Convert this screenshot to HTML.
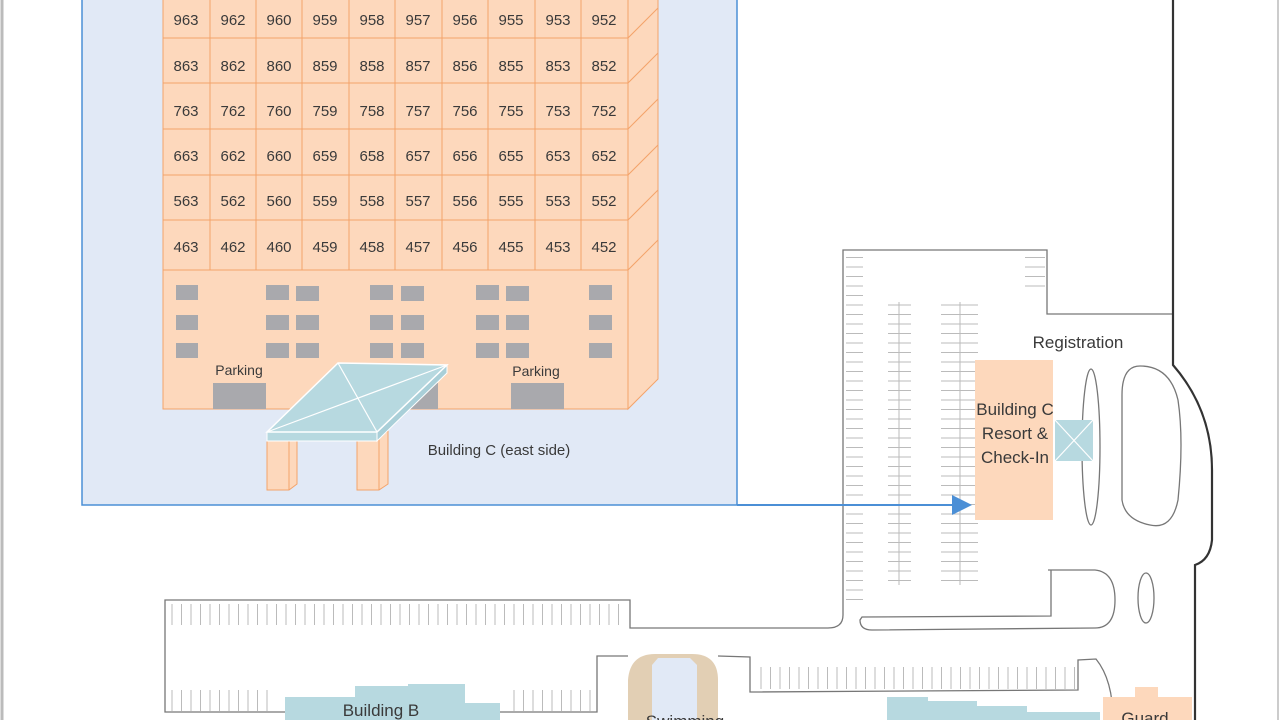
<!DOCTYPE html>
<html><head><meta charset="utf-8"><style>
html,body{margin:0;padding:0;background:#fff;width:1280px;height:720px;overflow:hidden}
text{font-family:"Liberation Sans",sans-serif;fill:#3a3a3a}
</style></head><body>
<svg width="1280" height="720" viewBox="0 0 1280 720" xmlns="http://www.w3.org/2000/svg">
<defs>
<pattern id="hz" width="20" height="9.5" patternUnits="userSpaceOnUse"><line x1="0" y1="1" x2="20" y2="1" stroke="#bbb" stroke-width="1"/></pattern>
<pattern id="vt" width="9.5" height="30" patternUnits="userSpaceOnUse"><line x1="1" y1="0" x2="1" y2="30" stroke="#bbb" stroke-width="1"/></pattern>
</defs>
<rect x="0" y="0" width="1280" height="720" fill="#fff"/>
<line x1="2" y1="0" x2="2" y2="720" stroke="#bbb" stroke-width="3"/>
<line x1="1278" y1="0" x2="1278" y2="720" stroke="#ccc" stroke-width="2"/>

<!-- blue panel -->
<rect x="82" y="-2" width="655" height="507" fill="#e1e9f6" stroke="#4b8fd6" stroke-width="1.5"/>

<!-- building -->
<polygon points="628,-7 658,-37 658,379 628,409" fill="#fdd8bc" stroke="#f4a36a" stroke-width="1"/>
<rect x="163" y="-7" width="465" height="416" fill="#fdd8bc" stroke="#f4a36a" stroke-width="1"/>
<g stroke="#f4a36a" stroke-width="1">
<line x1="210" y1="-7" x2="210" y2="270"/><line x1="256" y1="-7" x2="256" y2="270"/><line x1="302" y1="-7" x2="302" y2="270"/><line x1="349" y1="-7" x2="349" y2="270"/><line x1="395" y1="-7" x2="395" y2="270"/><line x1="442" y1="-7" x2="442" y2="270"/><line x1="488" y1="-7" x2="488" y2="270"/><line x1="535" y1="-7" x2="535" y2="270"/><line x1="581" y1="-7" x2="581" y2="270"/>
<line x1="163" y1="38" x2="628" y2="38"/><line x1="163" y1="83" x2="628" y2="83"/><line x1="163" y1="129" x2="628" y2="129"/><line x1="163" y1="175" x2="628" y2="175"/><line x1="163" y1="220" x2="628" y2="220"/><line x1="163" y1="270" x2="628" y2="270"/>
<line x1="628" y1="38" x2="658" y2="8"/><line x1="628" y1="83" x2="658" y2="53"/><line x1="628" y1="129" x2="658" y2="99"/><line x1="628" y1="175" x2="658" y2="145"/><line x1="628" y1="220" x2="658" y2="190"/><line x1="628" y1="270" x2="658" y2="240"/>
</g>
<g font-size="15" text-anchor="middle">
<text x="186" y="25">963</text><text x="233" y="25">962</text><text x="279" y="25">960</text><text x="325" y="25">959</text><text x="372" y="25">958</text><text x="418" y="25">957</text><text x="465" y="25">956</text><text x="511" y="25">955</text><text x="558" y="25">953</text><text x="604" y="25">952</text>
<text x="186" y="71">863</text><text x="233" y="71">862</text><text x="279" y="71">860</text><text x="325" y="71">859</text><text x="372" y="71">858</text><text x="418" y="71">857</text><text x="465" y="71">856</text><text x="511" y="71">855</text><text x="558" y="71">853</text><text x="604" y="71">852</text>
<text x="186" y="116">763</text><text x="233" y="116">762</text><text x="279" y="116">760</text><text x="325" y="116">759</text><text x="372" y="116">758</text><text x="418" y="116">757</text><text x="465" y="116">756</text><text x="511" y="116">755</text><text x="558" y="116">753</text><text x="604" y="116">752</text>
<text x="186" y="161">663</text><text x="233" y="161">662</text><text x="279" y="161">660</text><text x="325" y="161">659</text><text x="372" y="161">658</text><text x="418" y="161">657</text><text x="465" y="161">656</text><text x="511" y="161">655</text><text x="558" y="161">653</text><text x="604" y="161">652</text>
<text x="186" y="206">563</text><text x="233" y="206">562</text><text x="279" y="206">560</text><text x="325" y="206">559</text><text x="372" y="206">558</text><text x="418" y="206">557</text><text x="465" y="206">556</text><text x="511" y="206">555</text><text x="558" y="206">553</text><text x="604" y="206">552</text>
<text x="186" y="252">463</text><text x="233" y="252">462</text><text x="279" y="252">460</text><text x="325" y="252">459</text><text x="372" y="252">458</text><text x="418" y="252">457</text><text x="465" y="252">456</text><text x="511" y="252">455</text><text x="558" y="252">453</text><text x="604" y="252">452</text>
</g>
<g fill="#a9a9ad">
<rect x="176" y="285" width="22" height="15"/><rect x="176" y="315" width="22" height="15"/><rect x="176" y="343" width="22" height="15"/>
<rect x="266" y="285" width="23" height="15"/><rect x="266" y="315" width="23" height="15"/><rect x="266" y="343" width="23" height="15"/>
<rect x="296" y="286" width="23" height="15"/><rect x="296" y="315" width="23" height="15"/><rect x="296" y="343" width="23" height="15"/>
<rect x="370" y="285" width="23" height="15"/><rect x="370" y="315" width="23" height="15"/><rect x="370" y="343" width="23" height="15"/>
<rect x="401" y="286" width="23" height="15"/><rect x="401" y="315" width="23" height="15"/><rect x="401" y="343" width="23" height="15"/>
<rect x="476" y="285" width="23" height="15"/><rect x="476" y="315" width="23" height="15"/><rect x="476" y="343" width="23" height="15"/>
<rect x="506" y="286" width="23" height="15"/><rect x="506" y="315" width="23" height="15"/><rect x="506" y="343" width="23" height="15"/>
<rect x="589" y="285" width="23" height="15"/><rect x="589" y="315" width="23" height="15"/><rect x="589" y="343" width="23" height="15"/>
<rect x="213" y="383" width="53" height="26"/><rect x="405" y="383" width="33" height="26"/><rect x="511" y="383" width="53" height="26"/>
</g>
<text x="239" y="375" font-size="14" text-anchor="middle">Parking</text>
<text x="536" y="376" font-size="14" text-anchor="middle">Parking</text>

<!-- canopy -->
<g stroke="#f4a36a" stroke-width="1" fill="#fdd8bc">
<polygon points="267,437 289,437 297,431 297,484 289,490 267,490"/><line x1="289" y1="437" x2="289" y2="490"/>
<polygon points="357,437 379,437 388,431 388,484 379,490 357,490"/><line x1="379" y1="437" x2="379" y2="490"/>
</g>
<polygon points="267,432 377,432 377,441 267,441" fill="#b7d9e0" stroke="#fff" stroke-width="1"/>
<polygon points="377,432 447,365 447,373 377,441" fill="#a9cfd8" stroke="#fff" stroke-width="1"/>
<polygon points="267,432 338,363 447,365 377,432" fill="#b7d9e0" stroke="#fff" stroke-width="1.5"/>
<g stroke="#fff" stroke-width="1.2"><line x1="267" y1="432" x2="447" y2="365"/><line x1="338" y1="363" x2="377" y2="432"/></g>
<text x="499" y="455" font-size="15" text-anchor="middle">Building C (east side)</text>

<!-- parking lot outlines -->
<g fill="none" stroke="#777" stroke-width="1.3">
<path d="M843,615 L843,250 L1047,250 L1047,314 L1172,314"/>
<path d="M843,615 Q843,628 828,628 L630,628 L630,600 L165,600 L165,712 L285,712"/>
<path d="M1048,570 L1095,570 Q1115,572 1115,600 Q1115,628 1095,628 L872,630 Q860,630 860,620 L862,617 L1051,616 L1051,570"/>
<ellipse cx="1146" cy="598" rx="8" ry="25"/>
<ellipse cx="1091" cy="447" rx="9" ry="78"/>
<path d="M1140,366 Q1170,366 1178,400 Q1184,440 1178,500 Q1172,530 1150,525 Q1125,520 1122,500 L1122,395 Q1122,366 1140,366 Z"/>
<path d="M500,712 L597,712 L597,656 L628,656 M718,656 L750,657 L750,692 L1078,690 L1078,660 L1096,659 Q1113,680 1113,720"/>
</g>
<path d="M1173,0 L1173,365 Q1212,410 1212,470 L1212,540 Q1210,560 1195,565 L1195,720" fill="none" stroke="#333" stroke-width="2.2"/>

<!-- parking ticks -->
<rect x="846" y="255" width="17" height="345" fill="url(#hz)"/>
<rect x="888" y="302" width="23" height="283" fill="url(#hz)"/>
<line x1="899" y1="302" x2="899" y2="585" stroke="#bbb"/>
<rect x="941" y="302" width="37" height="283" fill="url(#hz)"/>
<line x1="960" y1="302" x2="960" y2="585" stroke="#bbb"/>
<rect x="1025" y="254" width="20" height="40" fill="url(#hz)"/>
<rect x="170" y="604" width="452" height="21" fill="url(#vt)"/>
<rect x="170" y="690" width="100" height="21" fill="url(#vt)"/>
<rect x="510" y="690" width="82" height="21" fill="url(#vt)"/>
<rect x="760" y="667" width="315" height="22" fill="url(#vt)"/>

<!-- arrow -->
<line x1="737" y1="505" x2="962" y2="505" stroke="#4b8fd6" stroke-width="2"/>
<polygon points="952,495 972,505 952,515" fill="#4b8fd6"/>

<!-- building C check-in -->
<rect x="975" y="360" width="78" height="160" fill="#fdd8bc"/>
<rect x="1055" y="420" width="38" height="41" fill="#b7d9e0"/>
<g stroke="#fff" stroke-width="1.2"><line x1="1055" y1="420" x2="1093" y2="461"/><line x1="1093" y1="420" x2="1055" y2="461"/></g>
<text x="1078" y="348" font-size="17" text-anchor="middle">Registration</text>
<g font-size="17" text-anchor="middle"><text x="1015" y="415">Building C</text><text x="1015" y="439">Resort &amp;</text><text x="1015" y="463">Check-In</text></g>

<!-- bottom buildings -->
<path d="M285,697 L355,697 L355,686 L408,686 L408,684 L465,684 L465,703 L500,703 L500,720 L285,720 Z" fill="#b7d9e0"/>
<text x="381" y="716" font-size="17" text-anchor="middle">Building B</text>
<path d="M628,720 L628,680 Q630,654 655,654 L692,654 Q718,654 718,680 L718,720 Z" fill="#e2cfb4"/>
<path d="M652,720 L652,665 L658,658 L690,658 L697,665 L697,720 Z" fill="#e1e9f6"/>
<text x="685" y="727" font-size="17" text-anchor="middle">Swimming</text>
<path d="M887,697 L928,697 L928,701 L977,701 L977,706 L1027,706 L1027,712 L1100,712 L1100,720 L887,720 Z" fill="#b7d9e0"/>
<path d="M1103,697 L1135,697 L1135,687 L1158,687 L1158,697 L1192,697 L1192,720 L1103,720 Z" fill="#fdd8bc"/>
<text x="1145" y="724" font-size="17" text-anchor="middle">Guard</text>
</svg>
</body></html>
